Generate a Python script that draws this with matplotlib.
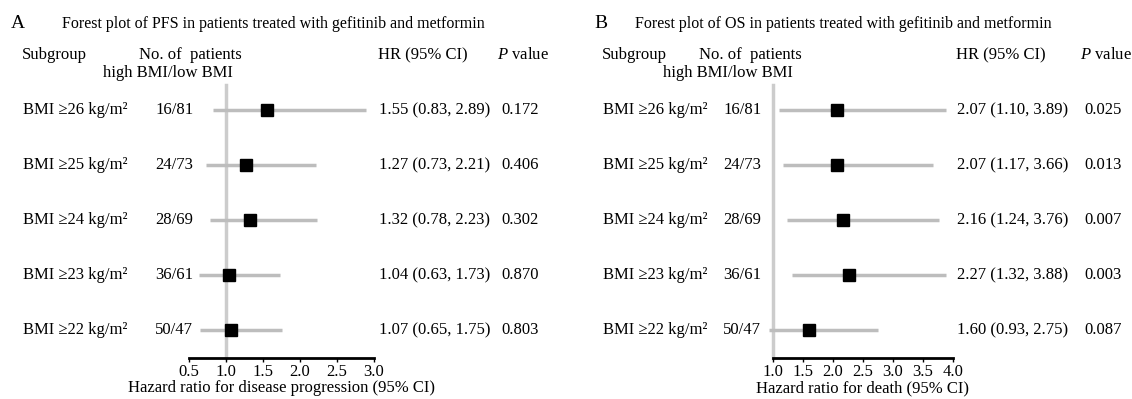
import numpy as np
import matplotlib
matplotlib.use("Agg")
import matplotlib.pyplot as plt
from matplotlib.transforms import blended_transform_factory

plt.rcParams['font.family'] = ['Liberation Serif', 'DejaVu Serif']
plt.rcParams['mathtext.fontset'] = 'custom'
plt.rcParams['mathtext.rm'] = 'Liberation Serif'
plt.rcParams['mathtext.it'] = 'Liberation Serif:italic'

# data
subgroups = ["BMI \u226526 kg/m\u00b2", "BMI \u226525 kg/m\u00b2", "BMI \u226524 kg/m\u00b2",
             "BMI \u226523 kg/m\u00b2", "BMI \u226522 kg/m\u00b2"]
n_patients = ["16/81", "24/73", "28/69", "36/61", "50/47"]

pfs_hr = [1.55, 1.27, 1.32, 1.04, 1.07]
pfs_lo = [0.83, 0.73, 0.78, 0.63, 0.65]
pfs_hi = [2.89, 2.21, 2.23, 1.73, 1.75]
pfs_p = ["0.172", "0.406", "0.302", "0.870", "0.803"]
pfs_ticks = [0.5, 1.0, 1.5, 2.0, 2.5, 3.0]

os_hr = [2.07, 2.07, 2.16, 2.27, 1.60]
os_lo = [1.10, 1.17, 1.24, 1.32, 0.93]
os_hi = [3.89, 3.66, 3.76, 3.88, 2.75]
os_p = ["0.025", "0.013", "0.007", "0.003", "0.087"]
os_ticks = [1.0, 1.5, 2.0, 2.5, 3.0, 3.5, 4.0]

W, H = 1132, 399
fig = plt.figure(figsize=(W / 100, H / 100), dpi=100)

def fx(x):
    return x / W

def fy(y):
    return 1 - y / H

FS = 12
GRAY = '#bdbdbd'
REF = '#cccccc'

# pixel rows: first row at 110, step 55, axis line at 358, top of ref line at 85
row0, step, ybot, ytop = 110, 55, 358, 85


def panel(letter, title, xl, xr, ticks, hr, lo, hi, pv, xlabel, cols):
    ax = fig.add_axes([fx(xl), fy(ybot), (xr - xl) / W, (ybot - ytop) / H])
    ax.set_xlim(ticks[0], ticks[-1])
    ax.set_ylim((ybot - row0) / step, (ytop - row0) / step)
    for s in ['left', 'right', 'top']:
        ax.spines[s].set_visible(False)
    ax.spines['bottom'].set_linewidth(2)
    ax.set_yticks([])
    ax.set_xticks(ticks)
    ax.set_xticklabels(["%.1f" % t for t in ticks], fontsize=FS)
    ax.tick_params(axis='x', direction='out', length=3, width=1, pad=1)
    ax.patch.set_alpha(0)

    ax.axvline(1.0, color=REF, lw=2.5, zorder=1, clip_on=False)
    y = np.arange(len(hr))
    ax.hlines(y, lo, hi, color=GRAY, lw=2.5, zorder=2, clip_on=False)
    ax.plot(hr, y, 's', color='black', ms=8.5, zorder=3, clip_on=False)

    tr = blended_transform_factory(fig.transFigure, ax.transData)
    c_sub, c_n, c_hr, c_p = cols
    for i in range(len(hr)):
        ax.text(fx(c_sub), i, subgroups[i], transform=tr, fontsize=FS, va='center')
        ax.text(fx(c_n), i, n_patients[i], transform=tr, fontsize=FS, va='center')
        ax.text(fx(c_hr), i, "%.2f (%.2f, %.2f)" % (hr[i], lo[i], hi[i]),
                transform=tr, fontsize=FS, va='center')
        ax.text(fx(c_p), i, pv[i], transform=tr, fontsize=FS, va='center')

    fig.text(fx(letter[1]), fy(24), letter[0], fontsize=14, va='center')
    fig.text(fx(letter[2]), fy(24), title, fontsize=11.5, va='center')
    fig.text(fx(c_sub - 1), fy(55), "Subgroup", fontsize=FS, va='center')
    fig.text(fx(letter[3]), fy(55), "No. of  patients", fontsize=FS, va='center', ha='right')
    fig.text(fx(letter[4]), fy(73), "high BMI/low BMI", fontsize=FS, va='center', ha='right')
    fig.text(fx(c_hr - 1), fy(55), "HR (95% CI)", fontsize=FS, va='center')
    fig.text(fx(c_p - 4), fy(55), r"$\it{P}$ value", fontsize=FS, va='center')

    xt = blended_transform_factory(ax.transAxes, fig.transFigure)
    ax.text(0.5, fy(388), xlabel, transform=xt, fontsize=FS, ha='center', va='center')
    return ax


panel(("A", 11, 62, 242, 233), "Forest plot of PFS in patients treated with gefitinib and metformin",
      189, 374, pfs_ticks, pfs_hr, pfs_lo, pfs_hi, pfs_p,
      "Hazard ratio for disease progression (95% CI)", (23, 155, 379, 501))

panel(("B", 594, 635, 802, 793), "Forest plot of OS in patients treated with gefitinib and metformin",
      773, 953, os_ticks, os_hr, os_lo, os_hi, os_p,
      "Hazard ratio for death (95% CI)", (603, 723, 957, 1084))

fig.savefig("out.png", dpi=100)
